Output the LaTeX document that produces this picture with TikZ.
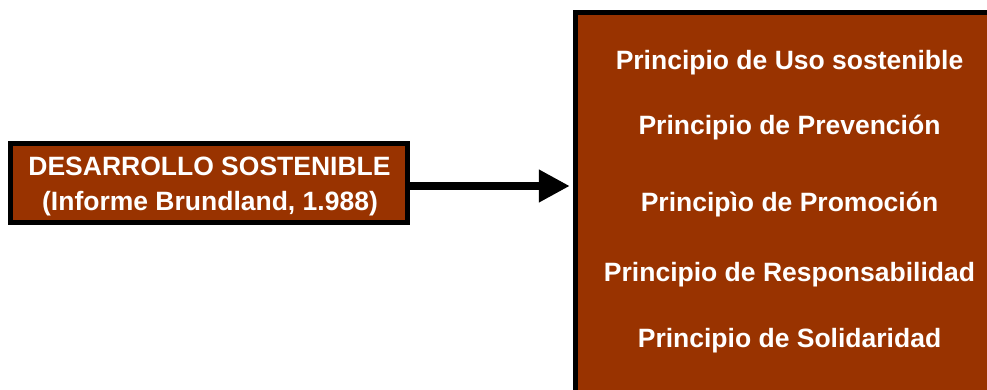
\documentclass[tikz,border=0pt]{standalone}
\usepackage{fontspec}
\setmainfont{Liberation Sans}
\usetikzlibrary{arrows.meta}
\definecolor{ladrillo}{HTML}{993300}
\begin{document}
\begin{tikzpicture}[x=1pt,y=-1pt,
  caja/.style={rectangle, fill=ladrillo, draw=black, line width=5.5pt, inner sep=0pt},
  rotulo/.style={text=white, font=\fontsize{26.5}{31}\selectfont\bfseries, inner sep=0pt, anchor=base},
  flecha/.style={line width=7.5pt, -{Triangle[length=31pt,width=31pt]}}]
  \useasboundingbox (0,0) rectangle (987,390);
  \clip (0,0) rectangle (987,390);

  % concept box on the left
  \node[caja, minimum width=397pt, minimum height=79pt] (ds) at (209,183) {};
  \node[rotulo] (ds1) at (209.5,175.7) {DESARROLLO SOSTENIBLE};
  \node[rotulo] (ds2) at (210,211) {(Informe Brundland, 1.988)};

  % principles panel on the right (runs past the page edge)
  \node[caja, minimum width=434.5pt, minimum height=397.5pt] (pr) at (792.75,211.25) {};
  \node[rotulo] (p1) at (789.5,70)    {Principio de Uso sostenible};
  \node[rotulo] (p2) at (789.5,134.3) {Principio de Prevención};
  \node[rotulo] (p3) at (789.5,211.7) {Principìo de Promoción};
  \node[rotulo] (p4) at (789.5,281)   {Principio de Responsabilidad};
  \node[rotulo] (p5) at (789.5,347.7) {Principio de Solidaridad};

  % connector
  \draw[flecha, shorten >=3pt] ([yshift=-3pt]ds.east) -- ([yshift=-3pt]ds.east -| pr.west);
\end{tikzpicture}
\end{document}
